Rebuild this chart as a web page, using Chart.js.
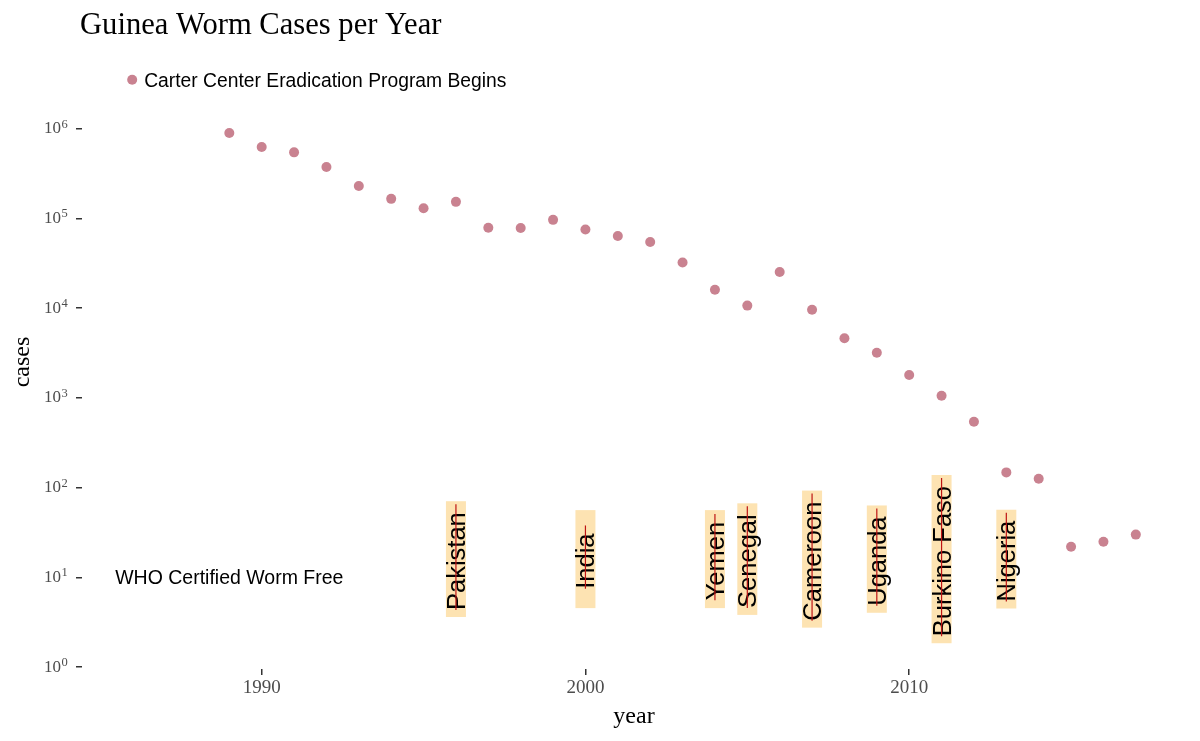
<!DOCTYPE html>
<html>
<head>
<meta charset="utf-8">
<script src="https://cdn.jsdelivr.net/npm/chart.js@4/dist/chart.umd.min.js"></script>
<style>
html,body{margin:0;padding:0;background:#ffffff;}
#wrap{width:1200px;height:741px;}
</style>
</head>
<body>
<div id="wrap"><canvas id="c" width="1200" height="741"></canvas></div>
<script>
// ---- data ----
const years = [1989,1990,1991,1992,1993,1994,1995,1996,1997,1998,1999,2000,2001,2002,2003,2004,2005,2006,2007,2008,2009,2010,2011,2012,2013,2014,2015,2016,2017];
const cases = [892055,623579,543585,374202,229773,164973,129852,152814,78557,78181,96293,75223,63717,54638,32193,16026,10674,25217,9585,4619,3190,1797,1058,542,148,126,22,25,30];
const xTickValues = [1990, 2000, 2010];
const yTickValues = [1, 10, 100, 1000, 10000, 100000, 1000000];
const startYears = [1986];
const startCases = [3500000];
const startLabel = 'Carter Center Eradication Program Begins';
const whoLabel = 'WHO Certified Worm Free';
const whoYears = [1989];
const whoCases = [10];
const countries = ['Pakistan','India','Yemen','Senegal','Cameroon','Uganda','Burkino Faso','Nigeria'];
const certYears = [1996,2000,2004,2005,2007,2009,2011,2013];
const certLabelCases = [16,16,16,16,16,16,16,16];

const SERIF = '"Liberation Serif","Times New Roman",serif';
const SANS = '"Liberation Sans",Arial,sans-serif';
const POINT = '#C98290';
const TICK_LABEL = '#4d4d4d';

const annot = {
  id: 'annot',
  beforeDatasetsDraw(chart) {
    const {ctx, scales: {x, y}} = chart;
    ctx.save();
    // title
    ctx.fillStyle = '#000';
    ctx.font = '30.6px ' + SERIF;
    ctx.textAlign = 'left';
    ctx.textBaseline = 'alphabetic';
    ctx.fillText('Guinea Worm Cases per Year', 80, 34);

    // WHO label
    ctx.font = '19.5px ' + SANS;
    ctx.textAlign = 'center';
    ctx.textBaseline = 'middle';
    ctx.fillText(whoLabel, x.getPixelForValue(whoYears[0]), y.getPixelForValue(whoCases[0]) + 1);

    // country labels
    ctx.font = '25.5px ' + SANS;
    countries.forEach((name, i) => {
      const px = x.getPixelForValue(certYears[i]);
      const py = y.getPixelForValue(certLabelCases[i]);
      const w = ctx.measureText(name).width;
      const boxW = 20, boxH = Math.max(w + 18, 98);
      ctx.fillStyle = '#FDE3B2';
      ctx.fillRect(px - boxW / 2, py - boxH / 2, boxW, boxH);
      ctx.save();
      ctx.translate(px, py);
      ctx.rotate(-Math.PI / 2);
      ctx.fillStyle = '#000';
      ctx.textAlign = 'center';
      ctx.textBaseline = 'alphabetic';
      ctx.fillText(name, -2, 9);
      ctx.restore();
      ctx.strokeStyle = '#BE1414';
      ctx.lineWidth = 1.2;
      ctx.beginPath();
      ctx.moveTo(px, py - w / 2 - 6);
      ctx.lineTo(px, py + w / 2 + 2);
      ctx.stroke();
    });

    // start label
    ctx.fillStyle = '#000';
    ctx.font = '19.3px ' + SANS;
    ctx.textAlign = 'left';
    ctx.textBaseline = 'middle';
    ctx.fillText(startLabel, x.getPixelForValue(startYears[0]) + 12, y.getPixelForValue(startCases[0]) + 2);

    // exponents of y tick labels ("10" is drawn by the axis)
    ctx.fillStyle = TICK_LABEL;
    ctx.font = '12.5px ' + SERIF;
    ctx.textAlign = 'left';
    ctx.textBaseline = 'alphabetic';
    y.ticks.forEach(t => {
      const py = y.getPixelForValue(t.value);
      ctx.fillText(String(Math.round(Math.log10(t.value))), 61.5, py - 1);
    });
    ctx.restore();
  }
};

new Chart(document.getElementById('c'), {
  type: 'scatter',
  data: {
    datasets: [
      {
        data: years.map((yr, i) => ({x: yr, y: cases[i]})),
        backgroundColor: POINT, borderWidth: 0, pointRadius: 5, pointHoverRadius: 5
      },
      {
        data: startYears.map((yr, i) => ({x: yr, y: startCases[i]})),
        backgroundColor: POINT, borderWidth: 0, pointRadius: 5, pointHoverRadius: 5
      }
    ]
  },
  options: {
    responsive: false,
    animation: false,
    devicePixelRatio: 1,
    layout: {padding: {top: 55, right: 14, bottom: 0, left: 0}},
    plugins: {legend: {display: false}, tooltip: {enabled: false}, title: {display: false}},
    scales: {
      x: {
        type: 'linear',
        min: 1984.45, max: 2018.55,
        afterBuildTicks: s => { s.ticks = xTickValues.map(v => ({value: v})); },
        afterFit: s => { s.height = 72; },
        grid: {display: true, drawOnChartArea: false, drawTicks: true, tickLength: 6, color: '#333', lineWidth: 1.5},
        border: {display: false},
        ticks: {color: TICK_LABEL, font: {family: SERIF, size: 19}, padding: 2, maxRotation: 0, callback: v => String(v)},
        title: {display: true, text: 'year', color: '#000', font: {family: SERIF, size: 24}, padding: {top: 0, bottom: 10}}
      },
      y: {
        type: 'logarithmic',
        min: Math.pow(10, -0.02), max: Math.pow(10, 6.82),
        afterBuildTicks: s => { s.ticks = yTickValues.map(v => ({value: v})); },
        afterFit: s => { s.width = 82; },
        grid: {display: true, drawOnChartArea: false, drawTicks: true, tickLength: 6, color: '#333', lineWidth: 1.5},
        border: {display: false},
        ticks: {
          color: TICK_LABEL, font: {family: SERIF, size: 17}, padding: 15,
          callback: v => '10'
        },
        title: {display: true, text: 'cases', color: '#000', font: {family: SERIF, size: 24}, padding: {top: 8, bottom: 0}}
      }
    }
  },
  plugins: [annot]
});
</script>
</body>
</html>
